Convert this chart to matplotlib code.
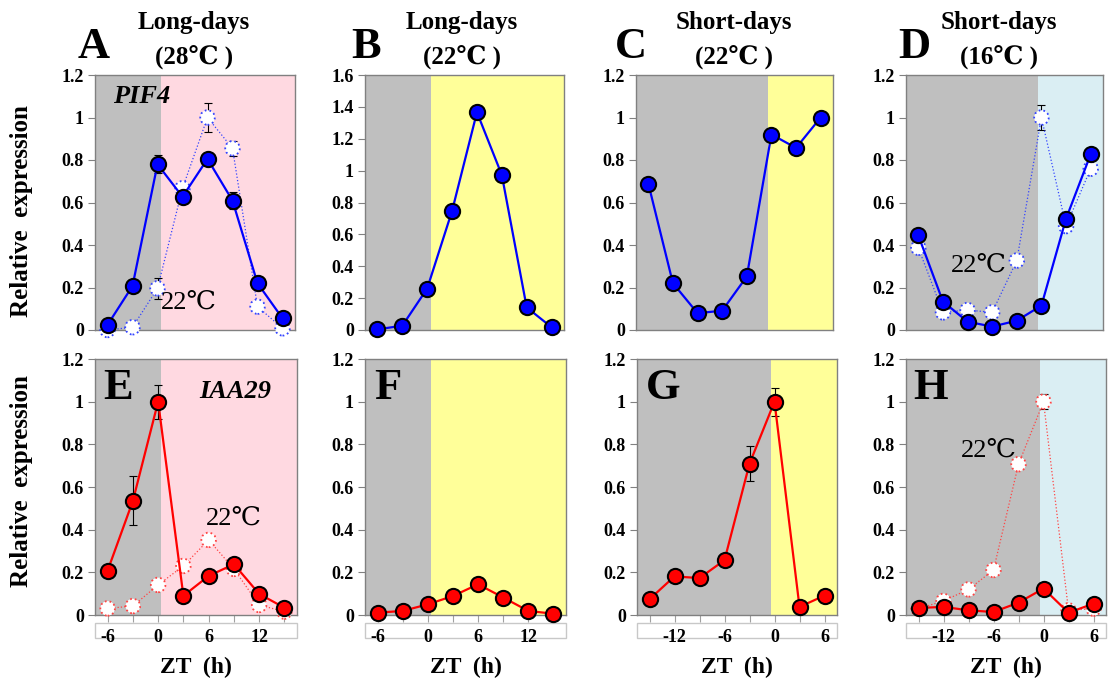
import numpy as np
import matplotlib
matplotlib.use('Agg')
import matplotlib.pyplot as plt
from matplotlib.patches import Rectangle

plt.rcParams['font.family'] = ['Liberation Serif', 'DejaVu Serif', 'Noto Sans CJK JP']

# time points
zt_ld = [-6, -3, 0, 3, 6, 9, 12, 15]
zt_sd = [-15, -12, -9, -6, -3, 0, 3, 6]

# PIF4 (top row)
pif4_ld28 = [0.024, 0.207, 0.78, 0.627, 0.805, 0.609, 0.22, 0.055]
pif4_ld28_err = [0, 0, 0.043, 0, 0, 0.04, 0, 0]
pif4_ld22 = [0.0, 0.013, 0.196, 0.667, 1.0, 0.855, 0.11, 0.008]
pif4_ld22_err = [0, 0, 0.05, 0, 0.07, 0.035, 0, 0]
pif4_ld22b = [0.004, 0.027, 0.26, 0.747, 1.366, 0.973, 0.142, 0.017]
pif4_sd22 = [0.689, 0.22, 0.079, 0.091, 0.252, 0.92, 0.857, 1.0]
pif4_sd16 = [0.445, 0.134, 0.039, 0.016, 0.044, 0.115, 0.524, 0.827]
pif4_sd16_22 = [0.387, 0.083, 0.094, 0.083, 0.327, 1.0, 0.489, 0.759]
pif4_sd16_22_err = [0, 0, 0, 0, 0, 0.06, 0, 0]

# IAA29 (bottom row)
iaa29_ld28 = [0.208, 0.535, 1.0, 0.09, 0.183, 0.238, 0.099, 0.034]
iaa29_ld28_err = [0, 0.115, 0.08, 0, 0, 0, 0, 0]
iaa29_ld22 = [0.031, 0.042, 0.141, 0.23, 0.352, 0.216, 0.047, 0.016]
iaa29_ld22b = [0.011, 0.019, 0.05, 0.089, 0.144, 0.082, 0.019, 0.006]
iaa29_sd22 = [0.074, 0.181, 0.173, 0.257, 0.709, 1.0, 0.038, 0.091]
iaa29_sd22_err = [0, 0, 0, 0, 0.083, 0.065, 0, 0]
iaa29_sd16 = [0.033, 0.038, 0.022, 0.014, 0.058, 0.124, 0.011, 0.053]
iaa29_sd16_22 = [0.03, 0.066, 0.12, 0.211, 0.707, 1.0, 0.022, 0.03]
iaa29_sd16_22_err = [0, 0, 0, 0, 0, 0.035, 0, 0]

ticks_ld = [-6, 0, 6, 12]
ticks_sd = [-12, -6, 0, 6]

GRAY = '#bfbfbf'
PINK = '#ffd9e1'
YELLOW = '#ffff99'
BLUE_BG = '#daeef3'

W, H = 1109, 681
fig = plt.figure(figsize=(W / 100, H / 100), dpi=100)


def make_ax(x0, top, w, bottom):
    return fig.add_axes([x0 / W, 1 - bottom / H, w / W, (bottom - top) / H])


def draw_panel(ax, zt, light, long_day, ymax, bottom_row):
    if long_day:
        xlo, xhi, dark_end = -7.5, 16.5, 0.4
        labs = ticks_ld
    else:
        xlo, xhi, dark_end = -16.5, 7.5, -0.4
        labs = ticks_sd
    ax.axvspan(xlo, dark_end, color=GRAY, lw=0, zorder=0)
    ax.axvspan(dark_end, xhi, color=light, lw=0, zorder=0)
    ax.set_xlim(xlo, xhi)
    ax.set_ylim(0, ymax)
    yt = np.arange(0, ymax + 0.01, 0.2)
    ax.set_yticks(yt)
    ax.set_yticklabels(['%g' % v for v in yt], fontsize=13, fontweight='bold')
    for s in ax.spines.values():
        s.set_color('#808080')
        s.set_linewidth(1)
    ax.tick_params(axis='y', direction='out', length=5, color='#808080', pad=3)
    if bottom_row:
        ax.set_xticks(zt)
        ax.set_xticklabels([str(t) if t in labs else '' for t in zt],
                           fontsize=13, fontweight='bold')
        ax.tick_params(axis='x', direction='out', length=5, color='#a0a0a0', pad=5)
        box = Rectangle((0, -23 / 256), 1, 15 / 256, transform=ax.transAxes,
                        facecolor='white', edgecolor='#c8c8c8', lw=1,
                        clip_on=False, zorder=-1)
        ax.add_patch(box)
        ax.set_xlabel('ZT  (h)', fontsize=17, fontweight='bold', labelpad=8)
    else:
        ax.set_xticks([])


def solid(ax, zt, y, color, err=None):
    if err is not None:
        ax.errorbar(zt, y, yerr=err, fmt='none', ecolor='black', elinewidth=0.8,
                    capsize=3, capthick=0.8, zorder=4)
    ax.plot(zt, y, color=color, lw=1.6, zorder=5)
    ax.scatter(zt, y, s=120, facecolor=color, edgecolor='black', linewidths=1.5,
               zorder=6, clip_on=False)


def hollow(ax, zt, y, color, err=None):
    if err is not None:
        ax.errorbar(zt, y, yerr=err, fmt='none', ecolor='black', elinewidth=0.8,
                    capsize=3, capthick=0.8, zorder=2)
    ax.plot(zt, y, color=color, lw=0.9, ls=':', zorder=2)
    ax.scatter(zt, y, s=110, facecolor='white', edgecolor=color, linewidths=1.3,
               linestyles=':', zorder=3, clip_on=False)


# top row
axA = make_ax(95, 75, 200, 330)
draw_panel(axA, zt_ld, PINK, True, 1.2, False)
hollow(axA, zt_ld, pif4_ld22, '#3344ff', pif4_ld22_err)
solid(axA, zt_ld, pif4_ld28, '#0000ff', pif4_ld28_err)
axA.text(-1.9, 1.10, 'PIF4', fontsize=19, fontweight='bold', style='italic',
         ha='center', va='center')
axA.text(3.8, 0.13, '22℃', fontsize=19, ha='center', va='center')

axB = make_ax(365, 75, 199, 330)
draw_panel(axB, zt_ld, YELLOW, True, 1.6, False)
solid(axB, zt_ld, pif4_ld22b, '#0000ff')

axC = make_ax(636, 75, 197, 330)
draw_panel(axC, zt_sd, YELLOW, False, 1.2, False)
solid(axC, zt_sd, pif4_sd22, '#0000ff')

axD = make_ax(906, 75, 197, 330)
draw_panel(axD, zt_sd, BLUE_BG, False, 1.2, False)
hollow(axD, zt_sd, pif4_sd16_22, '#3344ff', pif4_sd16_22_err)
solid(axD, zt_sd, pif4_sd16, '#0000ff')
axD.text(-7.6, 0.305, '22℃', fontsize=19, ha='center', va='center')

# bottom row
axE = make_ax(95, 359, 202, 615)
draw_panel(axE, zt_ld, PINK, True, 1.2, True)
hollow(axE, zt_ld, iaa29_ld22, '#ff4444')
solid(axE, zt_ld, iaa29_ld28, '#ff0000', iaa29_ld28_err)
axE.text(9.2, 1.05, 'IAA29', fontsize=19, fontweight='bold', style='italic',
         ha='center', va='center')
axE.text(9.0, 0.45, '22℃', fontsize=19, ha='center', va='center')

axF = make_ax(365, 359, 201, 615)
draw_panel(axF, zt_ld, YELLOW, True, 1.2, True)
solid(axF, zt_ld, iaa29_ld22b, '#ff0000')

axG = make_ax(637, 359, 200, 615)
draw_panel(axG, zt_sd, YELLOW, False, 1.2, True)
solid(axG, zt_sd, iaa29_sd22, '#ff0000', iaa29_sd22_err)

axH = make_ax(906, 359, 200, 615)
draw_panel(axH, zt_sd, BLUE_BG, False, 1.2, True)
hollow(axH, zt_sd, iaa29_sd16_22, '#ff4444', iaa29_sd16_22_err)
solid(axH, zt_sd, iaa29_sd16, '#ff0000')
axH.text(-6.6, 0.77, '22℃', fontsize=19, ha='center', va='center')

# panel letters inside bottom axes
for ax, x, L in [(axE, -4.7, 'E'), (axF, -4.8, 'F'), (axG, -13.3, 'G'), (axH, -13.5, 'H')]:
    ax.text(x, 1.065, L, fontsize=32, fontweight='bold', ha='center',
            va='center', zorder=7)

# panel letters and titles for top row
letters = ['A', 'B', 'C', 'D']
letter_x = [94, 366, 631, 914]
title_x = [194, 462, 734, 999]
titles = ['Long-days', 'Long-days', 'Short-days', 'Short-days']
temps = ['(28℃ )', '(22℃ )', '(22℃ )', '(16℃ )']
for L, lx, tx, t1, t2 in zip(letters, letter_x, title_x, titles, temps):
    fig.text(lx / W, 1 - 47 / H, L, fontsize=32, fontweight='bold',
             ha='center', va='center')
    fig.text(tx / W, 1 - 23 / H, t1, fontsize=18, fontweight='bold',
             ha='center', va='center')
    fig.text(tx / W, 1 - 58 / H, t2, fontsize=18, fontweight='bold',
             ha='center', va='center')

for yc in [211, 481]:
    fig.text(22 / W, 1 - yc / H, 'Relative  expression', fontsize=18,
             fontweight='bold', rotation=90, ha='center', va='center')

fig.savefig('out.png', dpi=100)
